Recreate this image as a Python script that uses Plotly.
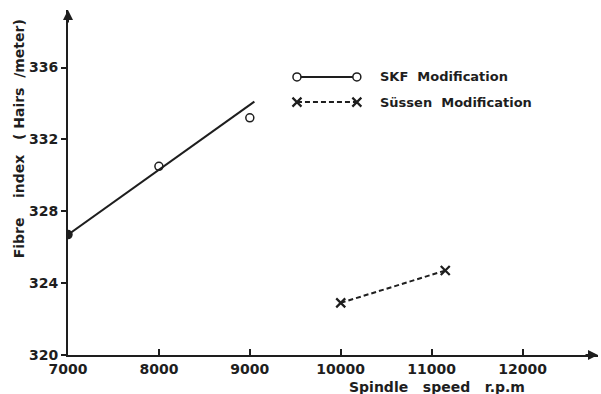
import plotly.graph_objects as go

# Data
skf_x = [7000, 8000, 9000]
skf_y = [326.7, 330.5, 333.2]
skf_fit_x = [7000, 9050]
skf_fit_y = [326.7, 334.1]
sussen_x = [10000, 11150]
sussen_y = [322.9, 324.7]

x_ticks = [7000, 8000, 9000, 10000, 11000, 12000]
y_ticks = [320, 324, 328, 332, 336]

INK = "#1e1e1e"
FONT = "DejaVu Sans"
S = "\u00a0"

fig = go.Figure()

fig.add_trace(go.Scatter(x=skf_fit_x, y=skf_fit_y, mode="lines",
                         line=dict(color=INK, width=2), showlegend=False))
fig.add_trace(go.Scatter(x=skf_x, y=skf_y, mode="markers",
                         marker=dict(symbol=["circle", "circle-open", "circle-open"],
                                     size=8, color=INK, line=dict(color=INK, width=1.5)),
                         showlegend=False))
fig.add_trace(go.Scatter(x=sussen_x, y=sussen_y, mode="lines+markers",
                         line=dict(color=INK, width=2, dash="5px,3px"),
                         marker=dict(symbol="x-thin-open", size=9, color=INK,
                                     line=dict(color=INK, width=2.2)),
                         showlegend=False))

# Hand-drawn style legend on an overlay axis in paper units
fig.add_trace(go.Scatter(x=[0.432, 0.545], y=[0.806, 0.806], xaxis="x2", yaxis="y2",
                         mode="lines+markers", line=dict(color=INK, width=2),
                         marker=dict(symbol="circle", size=8, color="white",
                                     line=dict(color=INK, width=1.5)),
                         showlegend=False))
fig.add_trace(go.Scatter(x=[0.432, 0.545], y=[0.733, 0.733], xaxis="x2", yaxis="y2",
                         mode="lines+markers", line=dict(color=INK, width=2, dash="5px,3px"),
                         marker=dict(symbol="x-thin-open", size=9, color=INK,
                                     line=dict(color=INK, width=2.2)),
                         showlegend=False))

tickfont = dict(family=FONT, size=14, color=INK, weight="bold")
fig.update_layout(
    width=601, height=394,
    margin=dict(l=68, r=3, t=10, b=39),
    paper_bgcolor="white", plot_bgcolor="white",
    font=dict(family=FONT, size=13, color=INK),
    xaxis=dict(range=[7000, 12830], tickvals=x_ticks, ticktext=[str(v) for v in x_ticks],
               ticks="inside", ticklen=6, tickwidth=1.5, tickcolor=INK,
               showline=True, linewidth=2, linecolor=INK, showgrid=False, zeroline=False,
               tickfont=tickfont),
    yaxis=dict(range=[320, 339.2], tickvals=y_ticks, ticktext=[str(v) for v in y_ticks],
               ticks="outside", ticklen=5, tickwidth=1.5, tickcolor=INK,
               showline=True, linewidth=2, linecolor=INK, showgrid=False, zeroline=False,
               tickfont=tickfont),
    xaxis2=dict(range=[0, 1], overlaying="x", visible=False, fixedrange=True),
    yaxis2=dict(range=[0, 1], overlaying="y", visible=False, fixedrange=True),
)

lab = dict(family=FONT, size=13, color=INK, weight="bold")
lab14 = dict(family=FONT, size=14, color=INK, weight="bold")
ann = [
    dict(x=1, y=0, xref="paper", yref="paper", ax=-14, ay=0, showarrow=True,
         arrowhead=2, arrowsize=1, arrowwidth=2, arrowcolor=INK, text=""),
    dict(x=0, y=1, xref="paper", yref="paper", ax=0, ay=14, showarrow=True,
         arrowhead=2, arrowsize=1, arrowwidth=2, arrowcolor=INK, text=""),
    dict(x=0.584, y=0.806, xref="paper", yref="paper", xanchor="left", yanchor="middle",
         showarrow=False, text="SKF" + S * 2 + "Modification", font=lab),
    dict(x=0.584, y=0.733, xref="paper", yref="paper", xanchor="left", yanchor="middle",
         showarrow=False, text="Süssen" + S * 2 + "Modification", font=lab),
    dict(x=0.696, y=-0.093, xref="paper", yref="paper", xanchor="center", yanchor="middle",
         showarrow=False, text="Spindle" + S * 3 + "speed" + S * 3 + "r.p.m", font=lab14),
    dict(x=-0.092, y=0.626, xref="paper", yref="paper", xanchor="center", yanchor="middle",
         showarrow=False, textangle=-90,
         text="Fibre" + S * 4 + "index" + S * 3 + "(" + S + "Hairs" + S * 2 + "/meter)", font=lab14),
]
fig.update_layout(annotations=ann)

fig.write_html("out.html", config={"displayModeBar": False},
               post_script="document.body.style.margin='0';document.body.style.overflow='hidden';")
